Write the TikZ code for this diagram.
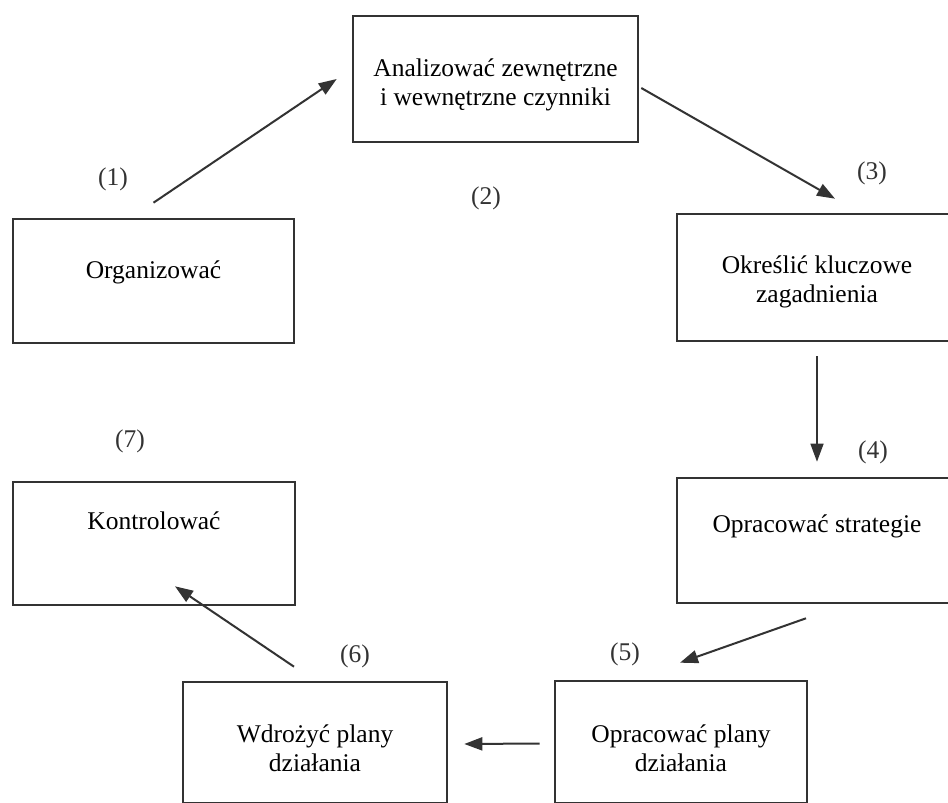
\documentclass[tikz,border=0pt]{standalone}
\usepackage{fontspec}
\setmainfont{Liberation Serif}
\usetikzlibrary{arrows.meta}
\definecolor{ink}{HTML}{333333}
\begin{document}
\begin{tikzpicture}[x=1pt, y=-1pt,
	box/.style={draw=ink, line width=2.6pt, align=center, inner xsep=0pt, inner ysep=0pt,
		font=\fontsize{25.5pt}{29pt}\selectfont},
	num/.style={font=\fontsize{25.5pt}{29pt}\selectfont, text=ink},
	arr/.style={draw=ink, line width=2pt, -{Triangle[length=18pt, width=13pt]}}]
	\fill[white] (0,0) rectangle (948,803);
	\useasboundingbox (0,0) rectangle (948,803);
	\clip (0,0) rectangle (948,803);
	% boxes
	\node[box, minimum width=285pt, text height=89pt, text depth=37pt] (anal) at (495.5,79) {Analizować zewnętrzne\\i wewnętrzne czynniki};
	\node[box, minimum width=281pt, text height=59pt, text depth=65pt] (org) at (153.5,281) {Organizować};
	\node[box, minimum width=280pt, text height=88pt, text depth=39pt] (okr) at (817,277.5) {Określić kluczowe\\zagadnienia};
	\node[box, minimum width=280pt, text height=54pt, text depth=71pt] (str) at (817,540.5) {Opracować strategie};
	\node[box, minimum width=282pt, text height=47pt, text depth=76pt] (kon) at (154,543.5) {Kontrolować};
	\node[box, minimum width=252pt, text height=90pt, text depth=32pt] (pla) at (681,742) {Opracować plany\\działania};
	\node[box, minimum width=264pt, text height=89pt, text depth=32pt] (wdr) at (315,742.5) {Wdrożyć plany\\działania};
	% numbers
	\node[num] (lab1) at (113,179) {(1)};
	\node[num] (lab2) at (486,198) {(2)};
	\node[num] (lab3) at (872,173) {(3)};
	\node[num] (lab4) at (873,452) {(4)};
	\node[num] (lab5) at (625,654) {(5)};
	\node[num] (lab6) at (355,656) {(6)};
	\node[num] (lab7) at (130,441) {(7)};
	% arrows
	\draw[arr] ([yshift=15pt]org.north) -- ([xshift=-15pt]anal.west);
	\draw[arr] ([xshift=2pt, yshift=-9pt]anal.east) -- ([xshift=18pt, yshift=14pt]okr.north);
	\draw[arr, line width=1.5pt] ([yshift=-14pt]okr.south) -- ([yshift=15pt]str.north);
	\draw[arr] ([xshift=-11pt, yshift=-14pt]str.south) -- ([xshift=-1pt, yshift=17pt]pla.north);
	\draw[arr] ([xshift=-14pt, yshift=-1.5pt]pla.west) -- ([xshift=16pt, yshift=-1.5pt]wdr.east);
	\draw[arr] ([xshift=-21pt, yshift=14pt]wdr.north) -- ([xshift=21pt, yshift=20pt]kon.south);
\end{tikzpicture}
\end{document}
